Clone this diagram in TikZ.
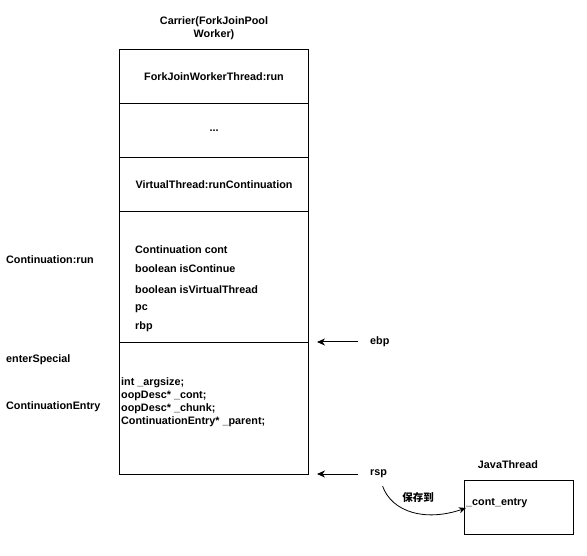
\documentclass[tikz,border=0pt]{standalone}
\usepackage{fontspec}
\setmainfont{Liberation Sans}
\newfontfamily\cjk{Noto Sans CJK SC}
\usetikzlibrary{arrows.meta}
\begin{document}
\begin{tikzpicture}[x=1pt,y=-1pt,
  every node/.style={font=\fontsize{10.8}{12.8}\selectfont\bfseries, inner sep=0pt},
  row/.style={draw, line width=1pt, minimum width=189pt, anchor=north west},
  txt/.style={anchor=west},
  arr/.style={line width=1pt, -{Stealth[length=8pt,width=7pt,inset=2.5pt]}}]
\useasboundingbox (0,0) rectangle (587,556);
% title
\node[align=center] (title) at (214,28) {Carrier(ForkJoinPool\\Worker)};
% stack rows
\node[row, minimum height=54pt] (r1) at (119,49) {ForkJoinWorkerThread:run};
\node[row, minimum height=54pt] (r2) at (119,103) {...};
\node[row, minimum height=54pt] (r3) at (119,157) {VirtualThread:runContinuation};
\node[row, minimum height=131pt] (r4) at (119,211) {};
\node[row, minimum height=132pt] (r5) at (119,342) {};
% fields of Continuation:run
\node[txt] (f1) at (135,250) {Continuation cont};
\node[txt] (f2) at (135,269) {boolean isContinue};
\node[txt] (f3) at (135,290) {boolean isVirtualThread};
\node[txt] (f4) at (135,309) {pc};
\node[txt] (f5) at (135,327) {rbp};
% fields of ContinuationEntry
\node[txt, align=left, font=\fontsize{10.8}{12.9}\selectfont\bfseries] (ce) at (121,402) {int \_argsize;\\oopDesc* \_cont;\\oopDesc* \_chunk;\\ContinuationEntry* \_parent;};
% left labels
\node[txt] (l1) at (6,260) {Continuation:run};
\node[txt] (l2) at (6,360) {enterSpecial};
\node[txt] (l3) at (6,407) {ContinuationEntry};
% pointers
\node[txt] (ebp) at (370,342) {ebp};
\node[txt] (rsp) at (370,474) {rsp};
\coordinate (ebpTip) at (317,342);
\coordinate (rspTip) at (317,474);
\draw[arr] (ebp.west) ++(-12,0) -- (ebpTip);
\draw[arr] (rsp.west) ++(-12,0) -- (rspTip);
% JavaThread
\node (jtl) at (508,465) {JavaThread};
\node[draw, line width=1pt, minimum width=109pt, minimum height=54pt, anchor=north west] (jt) at (464,480) {};
\node[txt] (ce2) at (466,503) {\_cont\_entry};
\coordinate (ceIn) at (466,508);
\draw[line width=0.8pt, -{Stealth[length=7pt,width=6pt,inset=2pt]}] (rsp.south) ++(4,8) .. controls (392,512) and (425,522) .. (ceIn);
\node (save) at (418,498) {\cjk\fontsize{10.5}{12}\selectfont 保存到};
\end{tikzpicture}
\end{document}
